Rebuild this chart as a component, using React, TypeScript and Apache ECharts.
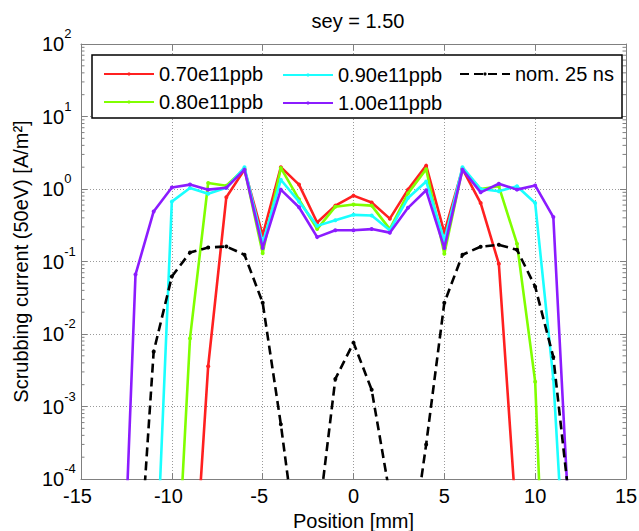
import React, { useEffect, useRef } from 'react';
import * as echarts from 'echarts';

const FONT = '"Liberation Sans", Arial, Helvetica, sans-serif';

const TITLE = 'sey = 1.50';
const X_NAME = 'Position [mm]';
const Y_NAME = 'Scrubbing current (50eV) [A/m²]';

const SERIES_NAMES = ['0.70e11ppb', '0.80e11ppb', '0.90e11ppb', '1.00e11ppb', 'nom. 25 ns'];

const X_070 = [-9, -8, -7, -6, -5, -4, -3, -2, -1, 0, 1, 2, 3, 4, 5, 6, 7, 8, 9];
const Y_070 = [4.6e-7, 0.0036, 0.77, 1.85, 0.23, 2.0, 1.15, 0.345, 0.59, 0.81, 0.65, 0.39, 0.98, 2.1, 0.25, 1.9, 0.64, 0.093, 2e-5];

const X_080 = [-10, -9, -8, -7, -6, -5, -4, -3, -2, -1, 0, 1, 2, 3, 4, 5, 6, 7, 8, 9, 10, 11];
const Y_080 = [1.6e-7, 0.0087, 1.21, 1.11, 1.9, 0.13, 1.95, 0.72, 0.28, 0.57, 0.61, 0.59, 0.28, 0.87, 1.88, 0.128, 1.9, 1.0, 1.09, 0.176, 0.0022, 1e-9];

const X_090 = [-11, -10, -9, -8, -7, -6, -5, -4, -3, -2, -1, 0, 1, 2, 3, 4, 5, 6, 7, 8, 9, 10, 11, 12];
const Y_090 = [7e-7, 0.67, 1.03, 0.86, 1.04, 1.99, 0.18, 1.34, 0.67, 0.31, 0.37, 0.44, 0.43, 0.27, 0.75, 1.27, 0.195, 2.0, 1.0, 0.93, 1.09, 0.64, 0.0024, 1.2e-7];

const X_100 = [-13, -12, -11, -10, -9, -8, -7, -6, -5, -4, -3, -2, -1, 0, 1, 2, 3, 4, 5, 6, 7, 8, 9, 10, 11, 12];
const Y_100 = [2e-8, 0.066, 0.49, 1.05, 1.15, 0.98, 1.04, 1.85, 0.153, 0.98, 0.56, 0.217, 0.27, 0.27, 0.28, 0.25, 0.55, 0.96, 0.153, 1.85, 0.9, 1.18, 0.98, 1.12, 0.41, 5.4e-6];

const X_NOM = [-12, -11, -10, -9, -8, -7, -6, -5, -4, -3, -2, -1, 0, 1, 2, 3, 4, 5, 6, 7, 8, 9, 10, 11, 12];
const Y_NOM = [1e-6, 0.0057, 0.062, 0.133, 0.156, 0.161, 0.124, 0.027, 5.7e-4, 7e-6, 2e-5, 0.0024, 0.0076, 0.0017, 6e-5, 5e-6, 3e-4, 0.027, 0.124, 0.16, 0.17, 0.145, 0.045, 0.0048, 2.6e-5];

const COLORS = ['#ff2020', '#80ff00', '#1affff', '#8b1cff', '#000000'];

const MINOR_MULTS = [2, 3, 4, 5, 6, 7, 8, 9];
const DECADES = [-4, -3, -2, -1, 0, 1];

export default function App() {
  const ref = useRef<HTMLDivElement>(null);

  useEffect(() => {
    if (!ref.current) return;
    const chart = echarts.init(ref.current, undefined, { renderer: 'svg' });

    const xs = [X_070, X_080, X_090, X_100, X_NOM];
    const ys = [Y_070, Y_080, Y_090, Y_100, Y_NOM];

    const lineSeries = SERIES_NAMES.map((name, i) => ({
      type: 'line',
      name,
      data: xs[i].map((x, j) => [x, ys[i][j]]),
      symbol: 'circle',
      symbolSize: 4,
      showSymbol: true,
      color: COLORS[i],
      itemStyle: { color: COLORS[i] },
      lineStyle: { color: COLORS[i], width: 2.6, type: i === 4 ? [9, 5] : 'solid' },
      clip: true,
      z: 2 + i,
      animation: false,
    }));

    const minorVals: number[][] = [];
    DECADES.forEach((e) => MINOR_MULTS.forEach((m) => minorVals.push([-15, m * Math.pow(10, e)])));

    const minorSeries = {
      type: 'custom',
      data: minorVals,
      encode: { x: 0, y: 1 },
      silent: true,
      clip: false,
      z: 1,
      renderItem: (params: any, api: any) => {
        const v = api.value(1);
        const l = api.coord([-15, v]);
        const r = api.coord([15, v]);
        return {
          type: 'group',
          children: [
            { type: 'line', shape: { x1: l[0], y1: l[1], x2: l[0] + 3.5, y2: l[1] }, style: { stroke: '#808080', lineWidth: 1 } },
            { type: 'line', shape: { x1: r[0] - 3.5, y1: r[1], x2: r[0], y2: r[1] }, style: { stroke: '#808080', lineWidth: 1 } },
          ],
        };
      },
    };

    const legendPos = [
      { name: SERIES_NAMES[0], left: 103, top: 63 },
      { name: SERIES_NAMES[1], left: 103, top: 91 },
      { name: SERIES_NAMES[2], left: 282, top: 64 },
      { name: SERIES_NAMES[3], left: 282, top: 92 },
      { name: SERIES_NAMES[4], left: 459, top: 63 },
    ];

    const axisGray = '#808080';
    const textBase = { fontFamily: FONT, color: '#000' };

    chart.setOption({
      animation: false,
      backgroundColor: '#fff',
      title: {
        text: TITLE,
        left: 353,
        top: 6,
        textAlign: 'center',
        textStyle: { ...textBase, fontSize: 20, fontWeight: 'normal' },
      },
      grid: { left: 81, right: 13, top: 44, bottom: 52, containLabel: false, outerBoundsMode: 'none' },
      legend: legendPos.map((p) => ({
        data: [p.name],
        left: p.left,
        top: p.top,
        padding: 0,
        itemWidth: 50,
        itemHeight: 4,
        itemGap: 0,
        selectedMode: false,
        z: 10,
        textStyle: { ...textBase, fontSize: 20, lineHeight: 22 },
      })),
      graphic: [
        {
          type: 'rect',
          shape: { x: 92, y: 55, width: 530, height: 63 },
          style: { fill: '#fff', stroke: '#000', lineWidth: 1.5 },
          z: 3,
          silent: true,
        },
      ],
      xAxis: [
        {
          type: 'value',
          min: -15,
          max: 15,
          interval: 5,
          position: 'bottom',
          axisLine: { show: true, onZero: false, lineStyle: { color: axisGray, width: 1 } },
          axisTick: { show: true, inside: true, length: 6, lineStyle: { color: axisGray } },
          splitLine: { show: true, lineStyle: { color: '#9a9a9a', type: [1, 2], width: 1 } },
          axisLabel: {
            margin: 7,
            formatter: (v: number) => (v < 0 ? `{n|${v}}{p| }` : `{n|${v}}`),
            rich: {
              n: { ...textBase, fontSize: 20 },
              p: { fontSize: 20, width: 7 },
            },
          },
          name: X_NAME,
          nameLocation: 'middle',
          nameGap: 29,
          nameTextStyle: { ...textBase, fontSize: 20 },
        },
        {
          type: 'value',
          min: -15,
          max: 15,
          interval: 5,
          position: 'top',
          axisLine: { show: true, onZero: false, lineStyle: { color: axisGray, width: 1 } },
          axisTick: { show: true, inside: true, length: 6, lineStyle: { color: axisGray } },
          splitLine: { show: false },
          axisLabel: { show: false },
        },
      ],
      yAxis: [
        {
          type: 'log',
          logBase: 10,
          min: 1e-4,
          max: 100,
          splitNumber: 6,
          position: 'left',
          axisLine: { show: true, onZero: false, lineStyle: { color: axisGray, width: 1 } },
          axisTick: { show: true, inside: true, length: 6, lineStyle: { color: axisGray } },
          splitLine: { show: true, lineStyle: { color: '#9a9a9a', type: [1, 2], width: 1 } },
          axisLabel: {
            align: 'left',
            margin: 39,
            formatter: (v: number) => `{b|10}{s|${Math.round(Math.log10(v))}}`,
            rich: {
              b: { ...textBase, fontSize: 20, lineHeight: 34 },
              s: { ...textBase, fontSize: 13, lineHeight: 13, verticalAlign: 'top' },
            },
          },
          name: Y_NAME,
          nameLocation: 'middle',
          nameGap: 49,
          nameRotate: 90,
          nameTextStyle: { ...textBase, fontSize: 20 },
        },
        {
          type: 'log',
          logBase: 10,
          min: 1e-4,
          max: 100,
          splitNumber: 6,
          position: 'right',
          axisLine: { show: true, onZero: false, lineStyle: { color: axisGray, width: 1 } },
          axisTick: { show: true, inside: true, length: 6, lineStyle: { color: axisGray } },
          splitLine: { show: false },
          axisLabel: { show: false },
        },
      ],
      series: [minorSeries, ...lineSeries],
    });

    return () => chart.dispose();
  }, []);

  return (
    <div
      ref={ref}
      style={{ position: 'absolute', left: 0, top: 0, width: 639, height: 531, background: '#fff' }}
    />
  );
}
